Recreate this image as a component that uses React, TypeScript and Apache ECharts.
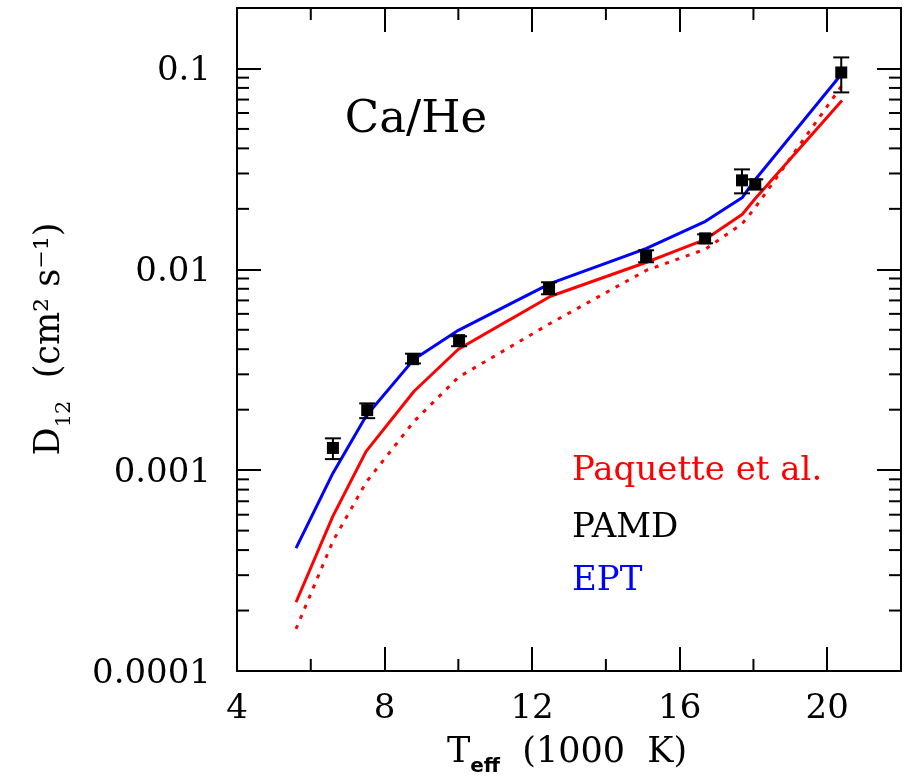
import React, { useEffect, useRef } from "react";
import * as echarts from "echarts";

// Effective temperature (1000 K) at which the diffusion models were evaluated
const T_MODEL = [5.6, 6.6, 7.5, 8.8, 10.0, 12.5, 15.1, 16.7, 17.7, 18.05, 20.4];
// Diffusion coefficient D12 (cm^2 s^-1) for each model
const D_EPT = [0.000409, 0.000966, 0.00186, 0.00357, 0.00497, 0.00851, 0.0127, 0.01733, 0.0228, 0.028, 0.0944];
const D_PAQUETTE = [0.00022, 0.00059, 0.00124, 0.00247, 0.004, 0.00734, 0.01084, 0.0141, 0.0188, 0.0225, 0.0693];
const D_PAMD = [0.000162, 0.000443, 0.00087, 0.00175, 0.0029, 0.00539, 0.00989, 0.0126, 0.0169, 0.0203, 0.0823];

// Simulation points with error bars
const T_SIM = [6.6, 7.53, 8.77, 10.02, 12.46, 15.09, 16.69, 17.69, 18.05, 20.38];
const D_SIM = [0.00129, 0.00199, 0.00357, 0.00444, 0.00805, 0.01161, 0.01426, 0.02773, 0.02648, 0.0955];
const D_SIM_LOW = [0.001135, 0.001815, 0.0034, 0.00414, 0.00751, 0.01084, 0.01347, 0.02389, 0.025, 0.076];
const D_SIM_HIGH = [0.00144, 0.00215, 0.0038, 0.00464, 0.00862, 0.01244, 0.01493, 0.03144, 0.02805, 0.1135];

// Axis ranges and ticks
const X_MIN = 4;
const X_MAX = 22;
const X_INTERVAL = 4;
const X_MINOR_TICKS = [6, 10, 14, 18];
const Y_MIN = 0.0001;
const Y_MAX = 0.2;
const Y_TICK_VALUES = [0.0001, 0.001, 0.01, 0.1];
const Y_TICK_LABELS = ["0.0001", "0.001", "0.01", "0.1"];
const Y_MINOR_TICKS = [
  0.0002, 0.0003, 0.0004, 0.0005, 0.0006, 0.0007, 0.0008, 0.0009,
  0.002, 0.003, 0.004, 0.005, 0.006, 0.007, 0.008, 0.009,
  0.02, 0.03, 0.04, 0.05, 0.06, 0.07, 0.08, 0.09,
];

const SERIF = "DejaVu Serif";
const MAJOR_LEN = 24;
const MINOR_LEN = 12;

export default function App() {
  const ref = useRef<HTMLDivElement>(null);

  useEffect(() => {
    if (!ref.current) return;
    const chart = echarts.init(ref.current, null, { renderer: "svg" });

    const yLabel = (v: number) => {
      const i = Y_TICK_VALUES.findIndex((t) => Math.abs(Math.log10(v / t)) < 1e-6);
      return i >= 0 ? Y_TICK_LABELS[i] : "";
    };

    const baseX = {
      type: "value",
      min: X_MIN,
      max: X_MAX,
      interval: X_INTERVAL,
      splitLine: { show: false },
      axisLine: { show: true, onZero: false, lineStyle: { color: "#000", width: 2 } },
      axisTick: { show: true, inside: true, length: MAJOR_LEN, lineStyle: { color: "#000", width: 2 } },
    };
    const baseY = {
      type: "log",
      logBase: 10,
      min: Y_MIN,
      max: Y_MAX,
      splitLine: { show: false },
      axisLine: { show: true, onZero: false, lineStyle: { color: "#000", width: 2 } },
      axisTick: { show: true, inside: true, length: MAJOR_LEN, lineStyle: { color: "#000", width: 2 } },
    };

    const tickData: number[][] = [
      ...X_MINOR_TICKS.map((v) => [v, Y_MIN, 0]),
      ...Y_MINOR_TICKS.map((v) => [X_MIN, v, 1]),
    ];

    const tickStyle = { stroke: "#000", lineWidth: 2 };

    chart.setOption({
      animation: false,
      grid: { left: 237, top: 8, right: 9, bottom: 110 },
      xAxis: [
        {
          ...baseX,
          position: "bottom",
          axisLabel: {
            show: true,
            showMaxLabel: false,
            margin: 18,
            fontFamily: SERIF,
            fontSize: 34,
            color: "#000",
          },
        },
        { ...baseX, position: "top", axisLabel: { show: false } },
      ],
      yAxis: [
        {
          ...baseY,
          position: "left",
          axisLabel: {
            show: true,
            margin: 26,
            fontFamily: SERIF,
            fontSize: 34,
            color: "#000",
            formatter: yLabel,
          },
        },
        { ...baseY, position: "right", axisLabel: { show: false } },
      ],
      series: [
        {
          type: "custom",
          name: "minor ticks",
          silent: true,
          clip: false,
          data: tickData,
          renderItem: (params: any, api: any) => {
            const cs = params.coordSys;
            const kind = api.value(2);
            if (kind === 0) {
              const p = api.coord([api.value(0), Y_MIN]);
              const bottom = cs.y + cs.height;
              return {
                type: "group",
                children: [
                  { type: "line", shape: { x1: p[0], y1: bottom, x2: p[0], y2: bottom - MINOR_LEN }, style: tickStyle },
                  { type: "line", shape: { x1: p[0], y1: cs.y, x2: p[0], y2: cs.y + MINOR_LEN }, style: tickStyle },
                ],
              };
            }
            const p = api.coord([X_MIN, api.value(1)]);
            const right = cs.x + cs.width;
            return {
              type: "group",
              children: [
                { type: "line", shape: { x1: cs.x, y1: p[1], x2: cs.x + MINOR_LEN, y2: p[1] }, style: tickStyle },
                { type: "line", shape: { x1: right, y1: p[1], x2: right - MINOR_LEN, y2: p[1] }, style: tickStyle },
              ],
            };
          },
        },
        {
          type: "line",
          name: "PAMD",
          data: T_MODEL.map((t, i) => [t, D_PAMD[i]]),
          showSymbol: false,
          lineStyle: { color: "#ff0000", width: 3, type: [4, 7], cap: "butt" },
          z: 3,
        },
        {
          type: "line",
          name: "Paquette et al.",
          data: T_MODEL.map((t, i) => [t, D_PAQUETTE[i]]),
          showSymbol: false,
          lineStyle: { color: "#ff0000", width: 3 },
          z: 3,
        },
        {
          type: "line",
          name: "EPT",
          data: T_MODEL.map((t, i) => [t, D_EPT[i]]),
          showSymbol: false,
          lineStyle: { color: "#0000ff", width: 3 },
          z: 4,
        },
        {
          type: "custom",
          name: "error bars",
          silent: true,
          data: T_SIM.map((t, i) => [t, D_SIM_LOW[i], D_SIM_HIGH[i]]),
          renderItem: (_params: any, api: any) => {
            const lo = api.coord([api.value(0), api.value(1)]);
            const hi = api.coord([api.value(0), api.value(2)]);
            const cap = 8;
            const s = { stroke: "#000", lineWidth: 2 };
            return {
              type: "group",
              children: [
                { type: "line", shape: { x1: lo[0], y1: lo[1], x2: hi[0], y2: hi[1] }, style: s },
                { type: "line", shape: { x1: lo[0] - cap, y1: lo[1], x2: lo[0] + cap, y2: lo[1] }, style: s },
                { type: "line", shape: { x1: hi[0] - cap, y1: hi[1], x2: hi[0] + cap, y2: hi[1] }, style: s },
              ],
            };
          },
          z: 5,
        },
        {
          type: "scatter",
          name: "simulation",
          data: T_SIM.map((t, i) => [t, D_SIM[i]]),
          symbol: "rect",
          symbolSize: 12,
          itemStyle: { color: "#000", opacity: 1 },
          z: 6,
        },
      ],
      graphic: [
        {
          type: "text",
          x: 416,
          y: 116,
          style: { text: "Ca/He", font: `45px "${SERIF}"`, fill: "#000", align: "center", verticalAlign: "middle" },
        },
        {
          type: "text",
          x: 572,
          y: 468,
          style: { text: "Paquette et al.", font: `34px "${SERIF}"`, fill: "#ff0000", align: "left", verticalAlign: "middle" },
        },
        {
          type: "text",
          x: 572,
          y: 525,
          style: { text: "PAMD", font: `34px "${SERIF}"`, fill: "#000", align: "left", verticalAlign: "middle" },
        },
        {
          type: "text",
          x: 572,
          y: 578,
          style: { text: "EPT", font: `34px "${SERIF}"`, fill: "#0000ff", align: "left", verticalAlign: "middle" },
        },
        {
          type: "text",
          x: 567,
          y: 750,
          style: {
            text: "{a|T}{b|eff}{a|  (1000  K)}",
            align: "center",
            verticalAlign: "middle",
            rich: {
              a: { fontFamily: SERIF, fontSize: 35, lineHeight: 50, fill: "#000", color: "#000" },
              b: {
                fontFamily: "DejaVu Sans",
                fontWeight: "bold",
                fontSize: 20,
                lineHeight: 20,
                verticalAlign: "bottom",
                fill: "#000",
                color: "#000",
              },
            },
          },
        },
        {
          type: "text",
          x: 47,
          y: 339,
          rotation: Math.PI / 2,
          style: {
            text: "{a|D}{b|12}{a|  (cm² s⁻¹)}",
            align: "center",
            verticalAlign: "middle",
            rich: {
              a: { fontFamily: SERIF, fontSize: 35, lineHeight: 52, fill: "#000", color: "#000" },
              b: {
                fontFamily: SERIF,
                fontSize: 21,
                lineHeight: 20,
                verticalAlign: "bottom",
                fill: "#000",
                color: "#000",
              },
            },
          },
        },
      ],
    });

    return () => chart.dispose();
  }, []);

  return <div ref={ref} style={{ position: "fixed", left: 0, top: 0, width: 910, height: 781 }} />;
}
